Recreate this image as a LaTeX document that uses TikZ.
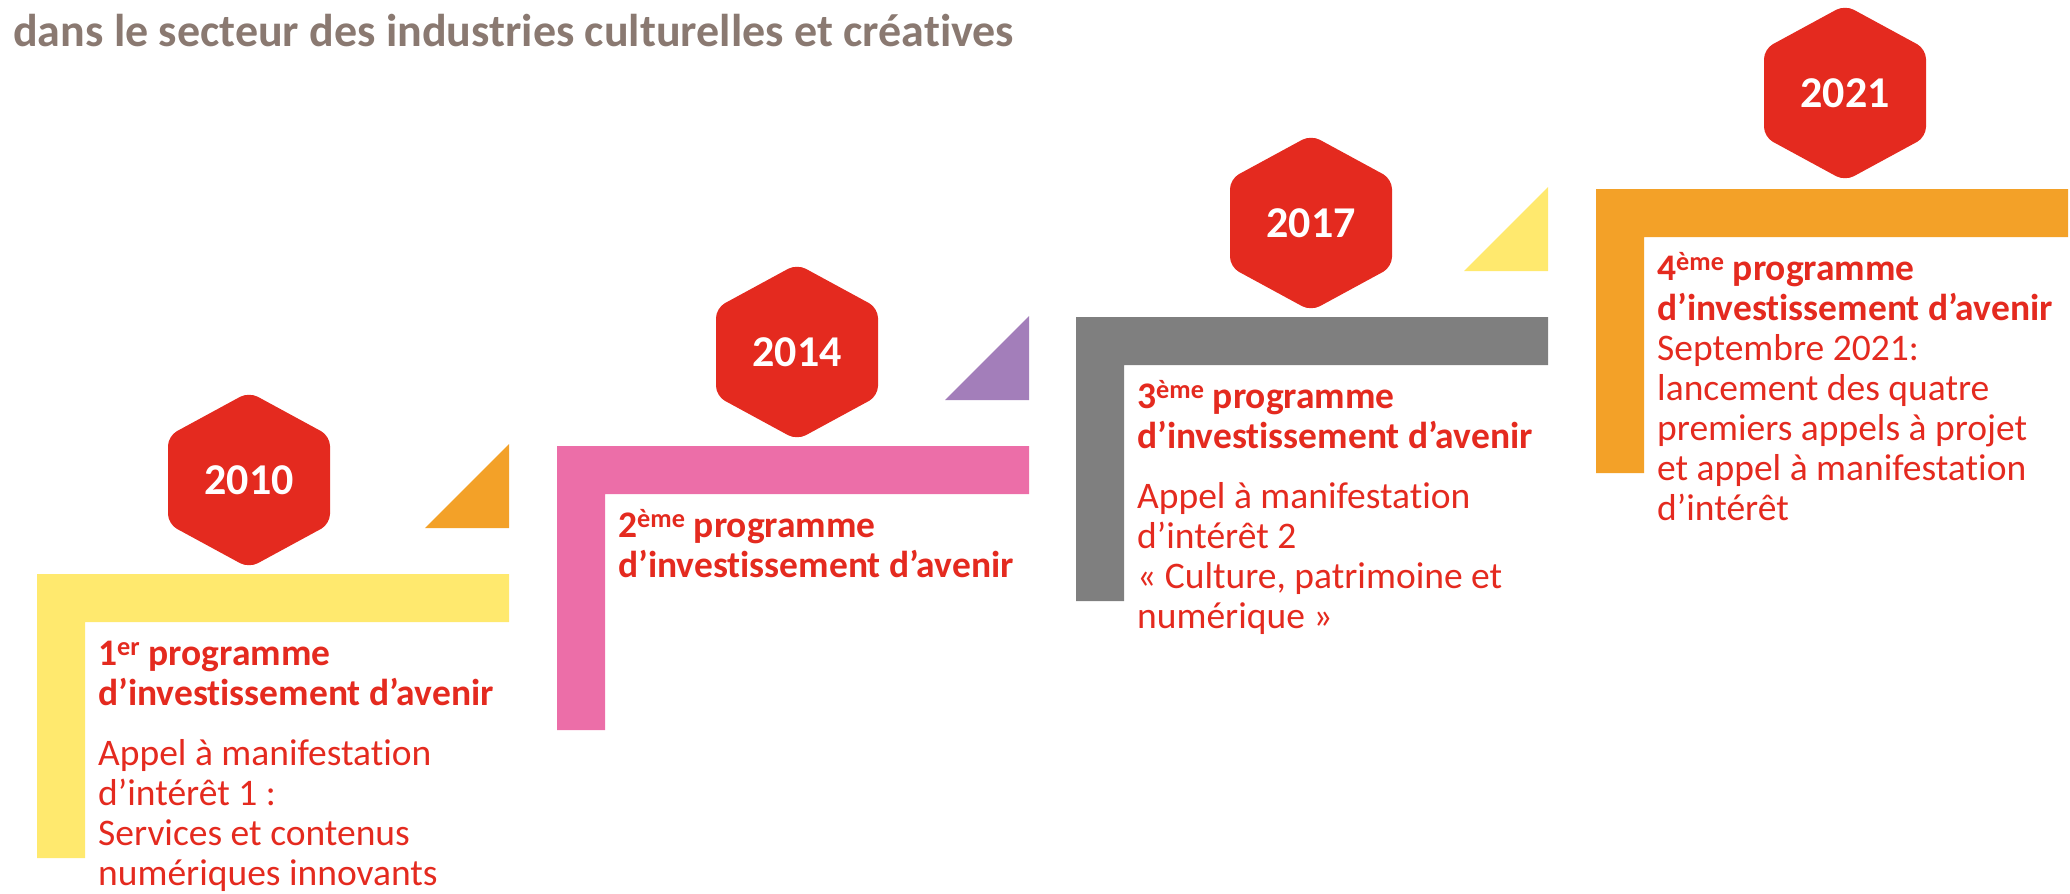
\documentclass[tikz,border=0pt]{standalone}
\usepackage{fontspec}
\setmainfont{Carlito}[Ligatures=NoCommon]
\definecolor{hexred}{HTML}{E42A1F}
\definecolor{txtred}{HTML}{E42A1F}
\definecolor{ttlgray}{HTML}{8A7971}
\definecolor{lyellow}{HTML}{FFE96E}
\definecolor{lpink}{HTML}{EC6EA8}
\definecolor{lgray}{HTML}{7F7F7F}
\definecolor{lorange}{HTML}{F3A128}
\definecolor{lpurple}{HTML}{A37EBA}
\begin{document}
\begin{tikzpicture}[x=1pt,y=-1pt,
  hexa/.style={fill=hexred, rounded corners=10pt},
  yearlbl/.style={text=white, inner sep=0pt, font=\fontsize{44}{50}\selectfont\bfseries},
  headtxt/.style={anchor=base west, inner sep=0pt, text=txtred, align=left, font=\fontsize{37.5}{40}\selectfont\bfseries},
  bodytxt/.style={anchor=base west, inner sep=0pt, text=txtred, align=left, font=\fontsize{37.5}{40}\selectfont},
  ttl/.style={anchor=base west, inner sep=0pt, text=ttlgray, font=\fontsize{46}{50}\selectfont\bfseries},
]
\useasboundingbox (0,0) rectangle (2070,894);

% title
\node[ttl] (title) at (13,46) {dans le secteur des industries culturelles et créatives};

% L-shaped brackets
\fill[lyellow] (37,574) -- (509,574) -- (509,622) -- (85,622) -- (85,858) -- (37,858) -- cycle;
\fill[lpink]   (557,446) -- (1029,446) -- (1029,494) -- (605,494) -- (605,730) -- (557,730) -- cycle;
\fill[lgray]   (1076,317) -- (1548,317) -- (1548,365) -- (1124,365) -- (1124,601) -- (1076,601) -- cycle;
\fill[lorange] (1596,189) -- (2068,189) -- (2068,237) -- (1644,237) -- (1644,473) -- (1596,473) -- cycle;

% corner triangles
\fill[lorange] (509,528) -- (425,528) -- (509,444) -- cycle;
\fill[lpurple] (1029,400) -- (945,400) -- (1029,316) -- cycle;
\fill[lyellow] (1548,271) -- (1464,271) -- (1548,187) -- cycle;

% hexagons
\fill[hexa] (249,392) -- (330,436) -- (330,524) -- (249,568) -- (168,524) -- (168,436) -- cycle;
\fill[hexa] (797,264) -- (878,308) -- (878,396) -- (797,440) -- (716,396) -- (716,308) -- cycle;
\fill[hexa] (1311,135) -- (1392,179) -- (1392,267) -- (1311,311) -- (1230,267) -- (1230,179) -- cycle;
\fill[hexa] (1845,5) -- (1926,49) -- (1926,137) -- (1845,181) -- (1764,137) -- (1764,49) -- cycle;

\node[yearlbl] (y2010) at (249,480) {2010};
\node[yearlbl] (y2014) at (797,352) {2014};
\node[yearlbl] (y2017) at (1311,223) {2017};
\node[yearlbl] (y2021) at (1845,93) {2021};

% texts (base anchor = baseline of the last line)
\node[headtxt] (h1) at (98,705) {1\textsuperscript{er} programme\\d’investissement d’avenir};
\node[bodytxt] (b1) at (98,885) {Appel à manifestation\\d’intérêt 1 :\\Services et contenus\\numériques innovants};

\node[headtxt] (h2) at (618,577) {2\textsuperscript{ème} programme\\d’investissement d’avenir};

\node[headtxt] (h3) at (1137,448) {3\textsuperscript{ème} programme\\d’investissement d’avenir};
\node[bodytxt] (b3) at (1137,628) {Appel à manifestation\\d’intérêt 2\\«~Culture, patrimoine et\\numérique~»};

\node[headtxt] (h4) at (1657,320) {4\textsuperscript{ème} programme\\d’investissement d’avenir};
\node[bodytxt] (b4) at (1657,520) {Septembre 2021:\\lancement des quatre\\premiers appels à projet\\et appel à manifestation\\d’intérêt};
\end{tikzpicture}
\end{document}
